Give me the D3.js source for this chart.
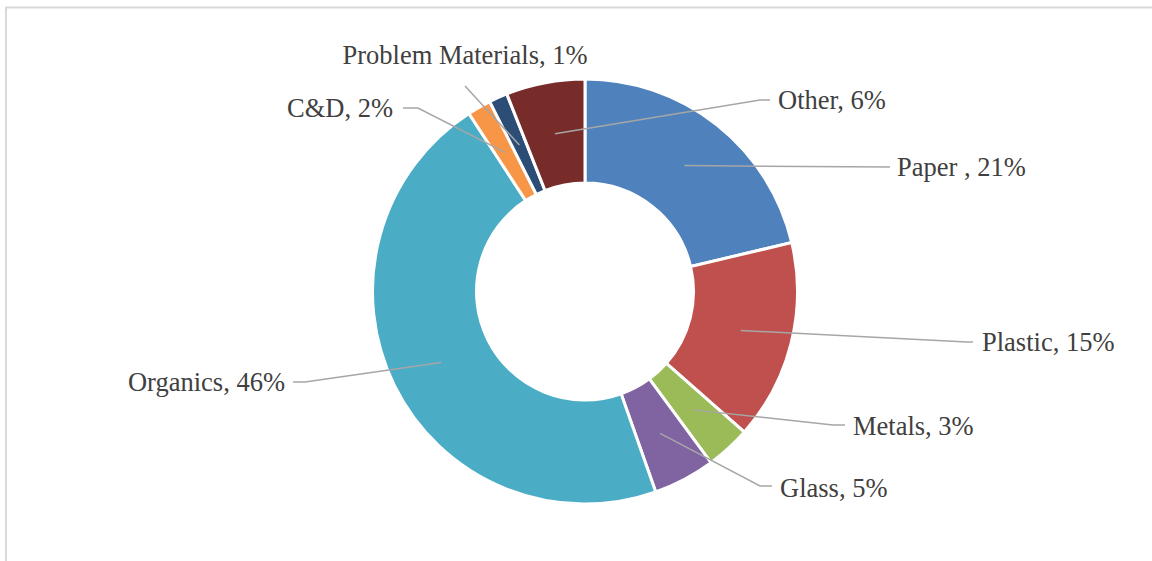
<!DOCTYPE html>
<html>
<head>
  <meta charset="utf-8">
  <script src="https://cdn.jsdelivr.net/npm/d3@7"></script>
  <style>
    body {margin:0; background:#fff;}
    text {
      font-family: "Liberation Serif", "Times New Roman", serif;
      font-size: 26.5px;
      fill: #404040;
    }
  </style>
</head>
<body>
<script>
// waste composition, percent
const categories = ["Paper ", "Plastic", "Metals", "Glass", "Organics", "C&D", "Problem Materials", "Other"];
const shares = [21.3, 15.2, 3.4, 4.7, 46.2, 1.8, 1.4, 6.0];
const colors = ["#4f81bd", "#c0504d", "#9bbb59", "#8064a2", "#4bacc6", "#f79646", "#2c4d75", "#772c2a"];

// where each label sits and where its leader bends (chart layout, not data)
const labelLayout = [
  {x: 897, y: 167, anchor: "start", bend: [[890, 167]]},
  {x: 982, y: 342, anchor: "start", bend: [[967, 342], [973, 342]]},
  {x: 853, y: 426, anchor: "start", bend: [[833, 425], [845, 425]]},
  {x: 780, y: 488, anchor: "start", bend: [[760, 486], [772, 486]]},
  {x: 285, y: 382, anchor: "end", bend: [[305, 382], [293, 382]]},
  {x: 393, y: 108, anchor: "end", bend: [[418, 108], [403, 108]]},
  {x: 465, y: 55, anchor: "middle", bend: [[465, 86]]},
  {x: 778, y: 100, anchor: "start", bend: [[760, 100], [770, 100]]}
];

const width = 1152, height = 561;
const cx = 585, cy = 291.5;
const outer = 212.5, inner = 108.5;

const svg = d3.select("body").append("svg")
  .attr("width", width)
  .attr("height", height);

// chart frame, only top and left edges are inside the picture
svg.append("rect")
  .attr("x", 6).attr("y", 7.5)
  .attr("width", width + 20).attr("height", height + 20)
  .attr("fill", "none")
  .attr("stroke", "#d9d9d9")
  .attr("stroke-width", 2);

const pie = d3.pie().sort(null).value(d => d);
const arcs = pie(shares);
const arc = d3.arc().innerRadius(inner).outerRadius(outer);

const g = svg.append("g").attr("transform", `translate(${cx},${cy})`);

g.selectAll("path.slice")
  .data(arcs)
  .join("path")
  .attr("class", "slice")
  .attr("d", arc)
  .attr("fill", (d, i) => colors[i])
  .attr("stroke", "#fff")
  .attr("stroke-width", 3)
  .attr("stroke-linejoin", "miter");

const total = d3.sum(shares);
const line = d3.line();

// leader lines from each slice centroid to its label
svg.append("g").selectAll("path")
  .data(arcs)
  .join("path")
  .attr("d", (d, i) => {
    const c = arc.centroid(d);
    return line([[c[0] + cx, c[1] + cy], ...labelLayout[i].bend]);
  })
  .attr("fill", "none")
  .attr("stroke", "#a6a6a6")
  .attr("stroke-width", 1.5);

svg.append("g").selectAll("text")
  .data(arcs)
  .join("text")
  .attr("x", (d, i) => labelLayout[i].x)
  .attr("y", (d, i) => labelLayout[i].y)
  .attr("dy", "0.34em")
  .attr("text-anchor", (d, i) => labelLayout[i].anchor)
  .text((d, i) => categories[i] + ", " + Math.round(d.data / total * 100) + "%");
</script>
</body>
</html>
